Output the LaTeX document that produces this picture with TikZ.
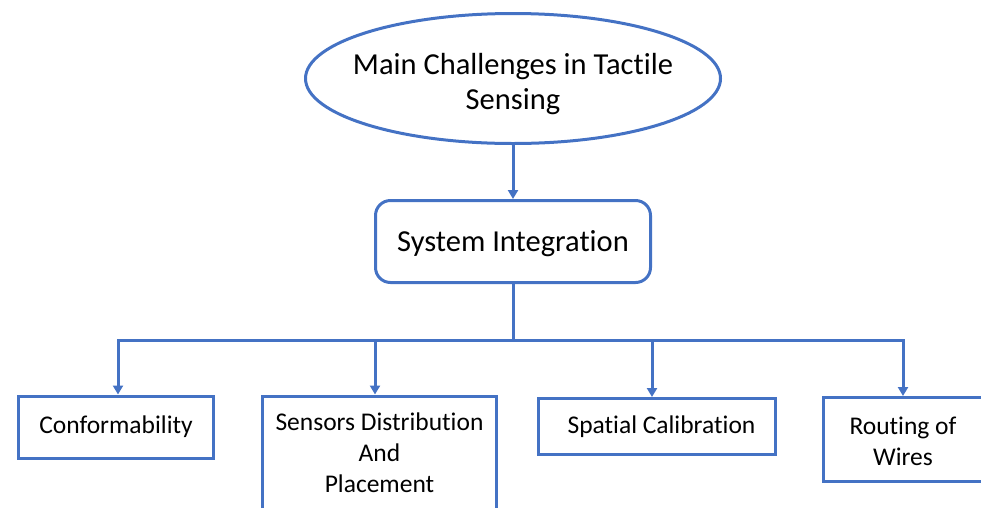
\documentclass[tikz,border=0pt]{standalone}
\usepackage{fontspec}
\setmainfont{Carlito}[Ligatures=NoCommon]
\usepackage{xcolor}
\usepackage{tikz}
\usetikzlibrary{shapes.geometric, arrows.meta}

\definecolor{boxblue}{HTML}{4472C4}

\begin{document}
\begin{tikzpicture}[x=1pt, y=-1pt,
  line width=3pt,
  box/.style={draw=boxblue, rectangle, align=center, inner sep=0pt},
  big/.style={font=\fontsize{30.5}{35}\selectfont},
  small/.style={font=\fontsize{25.5}{31}\selectfont},
  arr/.style={draw=boxblue, -{Triangle[width=10pt, length=9pt]}}]

\useasboundingbox (0,0) rectangle (981,507);

\node[draw=boxblue, ellipse, align=center, big, inner xsep=-40pt, inner ysep=0pt, minimum width=415pt, minimum height=130pt] (main) at (513,78.5) {\rule{0pt}{32pt}Main Challenges in Tactile\\Sensing};

\node[box, big, rounded corners=15pt, minimum width=275pt, minimum height=82pt] (integ) at (513,241.5) {\rule{0pt}{26pt}System Integration};

\node[box, small, minimum width=195pt, minimum height=62pt] (conf) at (116,427) {Conformability};

\node[box, small, minimum width=234pt, minimum height=114pt] (sensors) at (379.5,453) {Sensors Distribution\\And\\Placement};

\node[box, small, minimum width=237pt, minimum height=56pt] (spatial) at (657,426.5) {\hspace*{9pt}Spatial Calibration};

\node[box, small, minimum width=159pt, minimum height=84pt] (routing) at (903,439.5) {\rule{0pt}{22pt}Routing of\\Wires};

\coordinate (bus) at (513,340);

\draw[arr] (main) -- (integ);

\draw[boxblue] (integ) -- (bus);

\draw[arr] (bus) -| ([xshift=2pt]conf.north);

\draw[arr] (bus) -| ([xshift=-4.5pt]sensors.north);

\draw[arr] (bus) -| ([xshift=-5pt]spatial.north);

\draw[arr] (bus) -| (routing.north);

\end{tikzpicture}
\end{document}
